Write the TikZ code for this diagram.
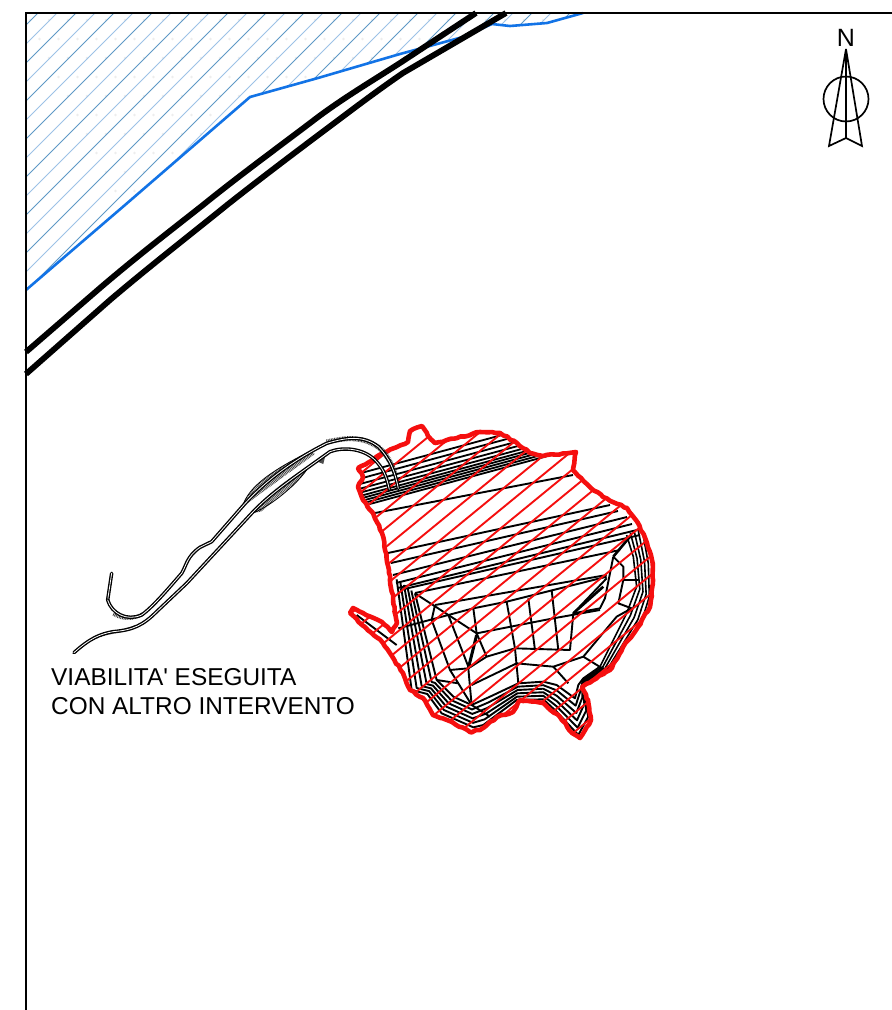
\documentclass[tikz,border=0pt]{standalone}
\usepackage{fontspec}
\newfontfamily\lblfont{Liberation Sans}
\usetikzlibrary{calc,decorations.pathmorphing}
\definecolor{bluel}{HTML}{1273E6}
\definecolor{hatcha}{HTML}{5E98C6}
\definecolor{hatchb}{HTML}{9CC2E6}
\definecolor{redl}{HTML}{F50F0F}
\newcommand\redpoly{(358,468) -- (373,460) -- (383,453) -- (397,447) -- (408,442) -- (410,431) -- (422,426) -- (428,436) -- (435,443) -- (457,438) -- (480,432) -- (500,433) -- (517,443) -- (530,453) -- (543,456) -- (576,452) -- (573,470) -- (588,485) -- (603,497) -- (627,508) -- (638,523) -- (647,543) -- (652,560) -- (653,580) -- (650,607) -- (638,627) -- (623,647) -- (610,670) -- (582,687) -- (588,700) -- (591,720) -- (580,738) -- (572,733) -- (560,717) -- (543,703) -- (520,700) -- (513,712) -- (497,717) -- (480,730) -- (470,732) -- (447,720) -- (433,715) -- (423,698) -- (410,690) -- (403,673) -- (383,643) -- (365,627) -- (350,613) -- (353,608) -- (363,613) -- (382,622) -- (392,632) -- (397,623) -- (390,580) -- (389,570) -- (382,533) -- (373,513) -- (363,500) -- (358,487) -- (363,477) -- cycle}
\newcommand\ip[4]{($(#1,#2)!\t!(#3,#4)$)}
\tikzset{
  cont/.style={black,line width=1.9pt,line join=round},
  road/.style={black,line width=1.35pt,double=white,double distance=0.8pt,line join=round,line cap=round},
  ticks/.style={black!75,dash pattern=on 0.8pt off 0.8pt},
  mainroad/.style={black,line width=5.8pt,line join=round},
  lbl/.style={inner sep=0pt,anchor=base west,font=\lblfont\fontsize{24.4}{24.4}\selectfont}
}
\begin{document}
\begin{tikzpicture}[x=1pt,y=-1pt]
\useasboundingbox (0,0) rectangle (892,1010);
\fill[white] (0,0) rectangle (892,1010);
% blue zone
\begin{scope}
\clip (26,13) -- (583,13) -- (547,23) -- (510,26) -- (492,24) -- (463,37) -- (400,54) -- (318,78) -- (250,97) -- (26,290) -- cycle;
\foreach \i in {0,...,28}{\foreach \j in {0,...,14}{
  \fill[black!7] ({30+\i*19+\j*9.5},{20+\j*19}) circle (1.3);
}}
\foreach \c in {51,89,...,660}{\draw[hatcha,line width=0.8pt] (\c,0) -- (0,\c);}
\foreach \c in {70,108,...,660}{\draw[hatchb,line width=0.8pt] (\c,0) -- (0,\c);}
\end{scope}
\draw[bluel,line width=2.6pt,line join=round] (26,290) -- (125,205) -- (250,97) -- (318,78) -- (400,54) -- (463,37) -- (492,24) -- (510,26) -- (547,23) -- (583,13);
% main road
\draw[mainroad] (26,352) -- (100,288) .. controls (135,258) and (170,231) .. (203,205) .. controls (240,175) and (280,146) .. (318,117) .. controls (345,97) and (372,81) .. (400,63) -- (476,13);
\draw[mainroad] (26,374) -- (110,300) .. controls (150,266) and (190,235) .. (227,205) .. controls (265,175) and (305,145) .. (345,115) .. controls (365,100) and (384,86) .. (403,73) -- (506,13);
% frame
\draw[black,line width=2pt] (26,1010) -- (26,13) -- (892,13);
% north arrow
\node[inner sep=0pt,font=\lblfont\fontsize{25}{25}\selectfont] (north) at (846,38) {N};
\coordinate (apex) at (846,49);
\coordinate (tl) at (829,146);
\coordinate (tm) at (846,138);
\coordinate (tr) at (862,146);
\draw[black,line width=1.7pt,line join=miter] (tm) -- (apex) -- (tl) -- (tm) -- (tr) -- (apex);
\draw[black,line width=1.7pt] (846,99) circle (22.5);
% site contours
\begin{scope}
\clip \redpoly;
\foreach \yy in {160,176,192,206,218,228,236,244,252,260}{
  \draw[cont,line width=1.8pt,shift={(340,420)},x=0.3333pt,y=-0.3333pt] (40,{\yy+5.4}) -- (740,{\yy-183.6});
}
\draw[cont] (375,513) -- (573,475);
\foreach \a/\b/\c/\d in {388/553/610/505,391/563/618/511,393/575/627/517,396/583/632/524,398/588/637/530,400/590/640/535,415/593/620/550}{
  \draw[cont] (\a,\b) -- (\c,\d);
}
\begin{scope}[shift={(340,570)},x=0.3333pt,y=-0.3333pt]
\draw[cont] (285,105) -- (800,15);
\draw[cont] (175,175) -- (325,135) -- (400,115) -- (500,95) -- (640,60) -- (800,20);
\draw[cont] (225,70) -- (410,190) -- (640,145) -- (780,120);
\draw[cont] (400,115) -- (410,190);
\draw[cont,line width=3pt] (410,195) -- (385,295);
\draw[cont] (385,295) -- (395,405) -- (450,440);
\draw[cont] (500,95) -- (525,235) -- (535,340);
\draw[cont] (565,85) -- (585,240);
\draw[cont] (635,60) -- (655,240);
\draw[cont] (525,235) -- (690,240) -- (700,130) -- (800,25);
\draw[cont,line width=2.6pt] (700,130) -- (790,50);
\draw[cont] (700,130) -- (780,115) -- (795,85) -- (820,-40);
\draw[cont] (285,105) -- (275,150) -- (330,300) -- (355,340) -- (395,405);
\draw[cont] (325,135) -- (385,290);
\draw[cont] (410,190) -- (440,260) -- (385,295) -- (330,300);
\draw[cont] (440,260) -- (525,235);
\draw[cont] (395,345) -- (530,280) -- (640,290) -- (730,260) -- (830,140) -- (875,115);
\draw[cont] (355,340) -- (290,330);
\draw[cont] (640,290) -- (685,340);
\draw[cont] (730,260) -- (795,300);
\draw[cont] (50,135) -- (170,225);
\draw[cont,line width=2.6pt] (870,-100) -- (820,-40);
\draw[cont] (820,-40) -- (850,-10) -- (850,30) -- (835,100) -- (875,115);
\draw[cont] (850,30) -- (895,30);
\foreach \t in {0,0.2,0.4,0.6,0.8,1}{
  \draw[cont] \ip{170}{28}{225}{70} -- \ip{215}{360}{290}{330} -- \ip{262}{372}{290}{330} -- \ip{305}{430}{340}{380} -- \ip{400}{472}{395}{405} -- \ip{430}{465}{450}{380} -- \ip{530}{390}{535}{340} -- \ip{610}{388}{610}{335} -- \ip{650}{425}{650}{345} -- \ip{715}{495}{705}{385} -- \ip{745}{440}{715}{345} -- \ip{725}{350}{730}{325} -- \ip{810}{300}{780}{290};
}
\foreach \t in {0,0.25,0.5,0.75,1}{
  \draw[cont,line width=1.6pt] \ip{810}{300}{780}{290} -- \ip{905}{155}{860}{130} -- \ip{928}{80}{890}{50} -- \ip{925}{-20}{880}{-40} -- \ip{905}{-130}{860}{-105};
}
\end{scope}
% red hatch
\foreach \k in {-8,...,16}{
  \pgfmathsetmacro{\cc}{1099+23*\k}
  \draw[redl,line width=1.9pt] ({\cc-420/0.82},420) -- ({\cc-750/0.82},750);
}
\end{scope}
\pgfmathsetseed{7}
\draw[redl,line width=4.6pt,line join=round,decorate,decoration={random steps,segment length=4pt,amplitude=0.7pt}] \redpoly;
% roads
\begin{scope}[shift={(70,430)},x=0.3333pt,y=-0.3333pt]
% widenings with ticks
\begin{scope}
\clip (515,232) .. controls (545,155) and (640,105) .. (722,63) -- (735,72) -- cycle;
\draw[ticks,line width=12pt] (515,232) .. controls (560,180) and (640,105) .. (770,40);
\end{scope}
\begin{scope}
\clip (545,250) .. controls (590,190) and (650,150) .. (705,115) -- (710,120) .. controls (670,175) and (610,225) .. (572,245) -- cycle;
\draw[ticks,line width=12pt] (545,250) .. controls (600,190) and (650,160) .. (710,118);
\end{scope}
\draw[ticks,line width=5pt] (770,36) .. controls (830,22) and (880,18) .. (930,55) .. controls (950,75) and (965,100) .. (975,130);
\draw[ticks,line width=3.5pt] (130,552) .. controls (160,570) and (190,568) .. (218,552);
\draw[ticks,line width=3pt] (70,625) .. controls (110,605) and (150,608) .. (195,590);
\fill[black!70] (735,92) -- (765,82) -- (760,102) -- cycle;
\draw[black,line width=0.8pt] (520,222) .. controls (545,155) and (640,105) .. (722,63);
\draw[black,line width=0.8pt] (550,248) .. controls (590,235) and (670,175) .. (710,120);
\draw[road] (125,430) -- (113,510);
\draw[road] (113,510) .. controls (125,550) and (170,575) .. (215,555) .. controls (250,530) and (300,470) .. (335,430) .. controls (350,405) and (350,380) .. (390,352) -- (425,335) -- (515,232) .. controls (560,180) and (640,105) .. (770,40) .. controls (830,22) and (880,15) .. (925,50) .. controls (960,85) and (975,125) .. (985,175);
\draw[road] (12,668) .. controls (60,625) and (90,612) .. (130,605) .. controls (190,600) and (220,585) .. (260,545) -- (350,460) -- (545,250) .. controls (600,190) and (690,130) .. (780,65) .. controls (820,50) and (880,55) .. (915,90) .. controls (940,115) and (950,140) .. (958,178);
\end{scope}
% label
\node[lbl] (t1) at (51,685) {VIABILITA' ESEGUITA};
\node[lbl] (t2) at (51,714) {CON ALTRO INTERVENTO};
\end{tikzpicture}
\end{document}
